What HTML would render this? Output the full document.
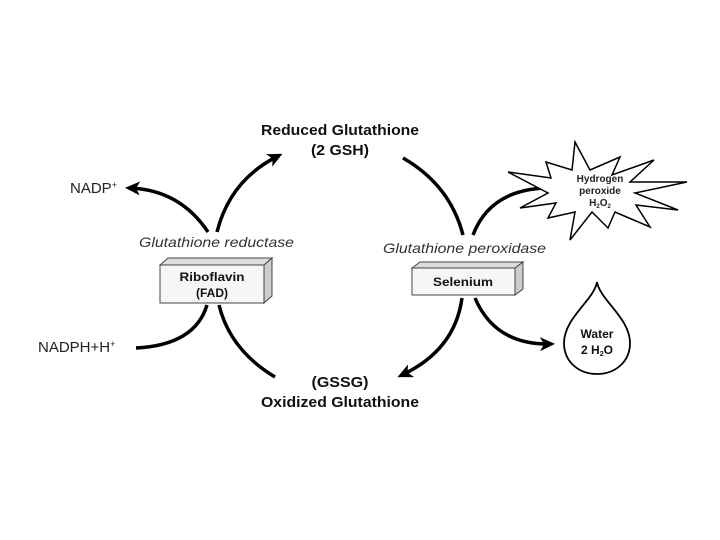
<!DOCTYPE html>
<html><head><style>html,body{margin:0;padding:0;background:#fff}svg{display:block}</style></head>
<body>
<svg width="720" height="540" viewBox="0 0 720 540" xmlns="http://www.w3.org/2000/svg" font-family="Liberation Sans, sans-serif">
<defs>
<marker id="ah" markerWidth="16" markerHeight="14" refX="10" refY="7" orient="auto" markerUnits="userSpaceOnUse">
<path d="M0,0 L15,7 L0,14 L4,7 Z" fill="#000"/>
</marker>
</defs>
<g fill="none" stroke="#000" stroke-width="3.5">
<path d="M217,232 Q230,180 278,156" marker-end="url(#ah)"/>
<path d="M208,232 Q180,190 130,188" marker-end="url(#ah)"/>
<path d="M136,348 Q195,345 207,305"/>
<path d="M219,305 Q230,350 275,377"/>
<path d="M403,158 Q450,185 463,235"/>
<path d="M473,235 Q490,190 546,188"/>
<path d="M462,298 Q455,350 402,375" marker-end="url(#ah)"/>
<path d="M475,298 Q495,345 550,344" marker-end="url(#ah)"/>
</g>
<g font-weight="bold" font-size="15" text-anchor="middle" fill="#111">
<text x="340" y="135" textLength="158" lengthAdjust="spacingAndGlyphs">Reduced Glutathione</text>
<text x="340" y="155" textLength="58" lengthAdjust="spacingAndGlyphs">(2 GSH)</text>
<text x="340" y="387" textLength="57" lengthAdjust="spacingAndGlyphs">(GSSG)</text>
<text x="340" y="407" textLength="158" lengthAdjust="spacingAndGlyphs">Oxidized Glutathione</text>
</g>
<g font-size="15" fill="#222">
<text x="70" y="193">NADP<tspan font-size="9" dy="-5">+</tspan></text>
<text x="38" y="352">NADPH+H<tspan font-size="9" dy="-5">+</tspan></text>
</g>
<g font-size="14" font-style="italic" fill="#333">
<text x="139" y="247" textLength="155" lengthAdjust="spacingAndGlyphs">Glutathione reductase</text>
<text x="383" y="253" textLength="163" lengthAdjust="spacingAndGlyphs">Glutathione peroxidase</text>
</g>
<g stroke="#444" stroke-width="1" fill="#eee">
<path d="M160,265 L168,258 L272,258 L264,265 Z" fill="#ddd"/>
<path d="M264,265 L272,258 L272,296 L264,303 Z" fill="#ccc"/>
<rect x="160" y="265" width="104" height="38" fill="#f6f6f6"/>
<path d="M412,268 L420,262 L523,262 L515,268 Z" fill="#ddd"/>
<path d="M515,268 L523,262 L523,289 L515,295 Z" fill="#ccc"/>
<rect x="412" y="268" width="103" height="27" fill="#f6f6f6"/>
</g>
<g font-weight="bold" font-size="12" text-anchor="middle" fill="#111">
<text x="212" y="281" textLength="65" lengthAdjust="spacingAndGlyphs">Riboflavin</text>
<text x="212" y="297">(FAD)</text>
<text x="463" y="286" textLength="60" lengthAdjust="spacingAndGlyphs">Selenium</text>
</g>
<path d="M575,142 L590,170 L620,157 L612,175 L654,160 L630,182 L687,182 L635,193 L678,210 L636,205 L650,227 L615,212 L608,228 L592,212 L570,240 L575,212 L548,218 L556,203 L520,208 L548,193 L508,172 L551,178 L546,162 L572,170 Z" fill="#fff" stroke="#000" stroke-width="1.5"/>
<g font-weight="bold" font-size="10" text-anchor="middle" fill="#222">
<text x="600" y="182">Hydrogen</text>
<text x="600" y="194">peroxide</text>
<text x="600" y="206">H<tspan font-size="6" dy="2">2</tspan><tspan dy="-2">O</tspan><tspan font-size="6" dy="2">2</tspan></text>
</g>
<path d="M597,282 C600,300 630,318 630,343 C630,362 615,374 597,374 C579,374 564,362 564,343 C564,318 594,300 597,282 Z" fill="#fff" stroke="#000" stroke-width="1.8"/>
<g font-weight="bold" font-size="12" text-anchor="middle" fill="#111">
<text x="597" y="338">Water</text>
<text x="597" y="354">2 H<tspan font-size="7" dy="2">2</tspan><tspan dy="-2">O</tspan></text>
</g>
</svg>
</body></html>
